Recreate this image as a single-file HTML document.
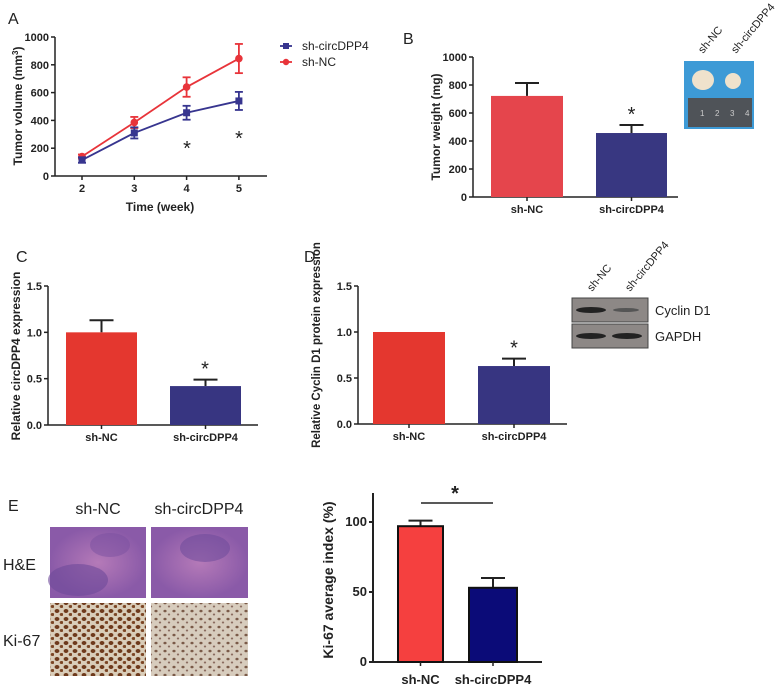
<!DOCTYPE html>
<html><head><meta charset="utf-8"><style>
body{margin:0;background:#fff;}
svg{display:block;font-family:"Liberation Sans",sans-serif;}
.t{font-size:10.5px;font-weight:bold;fill:#222;}
.pl{font-size:16px;fill:#222;}
</style></head><body>
<svg id="fig" width="784" height="686" viewBox="0 0 784 686">
<defs>
<pattern id="ki1" width="9" height="8" patternUnits="userSpaceOnUse"><rect width="9" height="8" fill="#d9cdb9"/><ellipse cx="3" cy="3" rx="2.4" ry="2" fill="#6e3a1c"/><ellipse cx="7.5" cy="6.5" rx="1.8" ry="1.5" fill="#7b4524"/></pattern>
<pattern id="ki2" width="9" height="8" patternUnits="userSpaceOnUse"><rect width="9" height="8" fill="#d7ccbd"/><ellipse cx="3" cy="3" rx="1.6" ry="1.3" fill="#7a5a48"/><ellipse cx="7" cy="6.5" rx="1.2" ry="1" fill="#8a6c60"/></pattern>
<radialGradient id="he1"><stop offset="0" stop-color="#b57ab8"/><stop offset="1" stop-color="#8a5aa8"/></radialGradient>
</defs>
<g id="root"></g>
</svg>
<script>
// Panel A data
const weeks=[2,3,4,5];
const circVol=[115,310,455,540];
const circErr=[20,40,50,65];
const ncVol=[140,385,640,845];
const ncErr=[15,40,70,105];
const aTicks=[0,200,400,600,800,1000];
// Panel B
const bCats=['sh-NC','sh-circDPP4'];
const bVals=[722,457];
const bErr=[92,57];
const bTicks=[0,200,400,600,800,1000];
// Panel C
const cVals=[1.0,0.42];
const cErr=[0.13,0.07];
const cTicks=['0.0','0.5','1.0','1.5'];
// Panel D
const dVals=[1.0,0.63];
const dErr=[0,0.08];
const dTicks=['0.0','0.5','1.0','1.5'];
// Panel E
const eVals=[97,53];
const eErr=[4,7];
const eTicks=[0,50,100];

const NS='http://www.w3.org/2000/svg';
const root=document.getElementById('root');
function el(tag,attrs,parent,text){const e=document.createElementNS(NS,tag);for(const k in attrs)e.setAttribute(k,attrs[k]);if(text!==undefined)e.textContent=text;(parent||root).appendChild(e);return e;}
function grp(name){const g=el('g',{});


return g;}

function lbl(g,x,y,s,name,cls,extra){
 const a={x:x,y:y,class:cls||'t'};let st='';
 for(const k in (extra||{})){if(k==='font-size')st+='font-size:'+extra[k]+'px;';else if(k==='font-weight'||k==='fill')st+=k+':'+extra[k]+';';else a[k]=extra[k];}
 if(st)a.style=st;
 const t=el('text',a,g,s);
 
 
 return t;}

function yAxis(g,x,y0,y1,vmax,ticks,minor,sw,fs){
 const sc=v=>y0-(v/vmax)*(y0-y1);
 el('line',{x1:x,y1:y0,x2:x,y2:y1-(minor||0),stroke:'#222','stroke-width':sw||1.5},g);
 ticks.forEach(tv=>{const v=+tv;const y=sc(v);el('line',{x1:x-4,y1:y,x2:x,y2:y,stroke:'#222','stroke-width':sw||1.5},g);
  lbl(g,x-6,y+4,String(tv),'y-tick-label','t',{'text-anchor':'end','font-size':fs||11});});
 return sc;
}

[['A',8,24],['B',403,44],['C',16,262],['D',304,262],['E',8,511]].forEach(p=>{lbl(root,p[1],p[2],p[0],'panel-label-'+p[0].toLowerCase(),'pl');});

// ---------- Panel A ----------
(function(){
 const g=grp('tumor-volume-chart');
 const x0=55,xe=267,y0=176,y1=37;
 const xs=w=>82+(w-2)*52.3;
 const ys=yAxis(g,x0,y0,y1,1000,aTicks);
 el('line',{x1:x0,y1:y0,x2:xe,y2:y0,stroke:'#222','stroke-width':1.5},g);
 weeks.forEach(w=>{el('line',{x1:xs(w),y1:y0,x2:xs(w),y2:y0+4,stroke:'#222','stroke-width':1.5},g);lbl(g,xs(w),y0+16,String(w),'x-tick-label','t',{'text-anchor':'middle','font-size':11});});
 lbl(g,160,211,'Time (week)','x-axis-title','t',{'text-anchor':'middle','font-size':12});
 const yt=lbl(g,0,0,'','y-axis-title','t',{'text-anchor':'middle','transform':'translate(22,106) rotate(-90)','font-size':12});
 yt.innerHTML='Tumor volume (mm<tspan dy="-4" style="font-size:8px">3</tspan><tspan dy="4">)</tspan>';
 function series(vals,err,col,name,sq){
  const s=grp(name);g.appendChild(s);
  el('polyline',{points:weeks.map((w,i)=>xs(w)+','+ys(vals[i])).join(' '),fill:'none',stroke:col,'stroke-width':1.8},s);
  weeks.forEach((w,i)=>{const x=xs(w);
   el('line',{x1:x,y1:ys(vals[i]-err[i]),x2:x,y2:ys(vals[i]+err[i]),stroke:col,'stroke-width':1.8},s);
   [vals[i]-err[i],vals[i]+err[i]].forEach(v=>el('line',{x1:x-4,y1:ys(v),x2:x+4,y2:ys(v),stroke:col,'stroke-width':1.8},s));
   const m=sq?el('rect',{x:x-3.5,y:ys(vals[i])-3.5,width:7,height:7,fill:col},s):el('circle',{cx:x,cy:ys(vals[i]),r:3.8,fill:col},s);
   
   
  });
 }
 series(ncVol,ncErr,'#e8343a','series-sh-nc',false);
 series(circVol,circErr,'#37358f','series-sh-circdpp4',true);
 lbl(g,187,155,'*','significance-star','t',{'text-anchor':'middle','font-size':20,'font-weight':'normal'});
 lbl(g,239,145,'*','significance-star','t',{'text-anchor':'middle','font-size':20,'font-weight':'normal'});
 const lg=grp('legend');g.appendChild(lg);
 el('line',{x1:280,y1:46,x2:292,y2:46,stroke:'#37358f','stroke-width':1.8},lg);el('rect',{x:283,y:43,width:6,height:6,fill:'#37358f'},lg);
 lbl(lg,302,50,'sh-circDPP4','legend-entry','t',{'font-weight':'normal','font-size':12});
 el('line',{x1:280,y1:62,x2:292,y2:62,stroke:'#e8343a','stroke-width':1.8},lg);el('circle',{cx:286,cy:62,r:3.2,fill:'#e8343a'},lg);
 lbl(lg,302,66,'sh-NC','legend-entry','t',{'font-weight':'normal','font-size':12});
})();

function barChart(name,o){
 const g=grp(name);
 const ys=yAxis(g,o.x0,o.y0,o.y1,o.vmax,o.ticks,o.extra||0,o.sw,o.fs);
 el('line',{x1:o.x0,y1:o.y0,x2:o.xe,y2:o.y0,stroke:'#222','stroke-width':o.sw||1.5},g);
 o.vals.forEach((v,i)=>{const b=o.bars[i];const cx=(b[0]+b[1])/2;
  if(o.err[i]>0){el('line',{x1:cx,y1:ys(v),x2:cx,y2:ys(v+o.err[i]),stroke:'#222','stroke-width':2},g);
   el('line',{x1:cx-12,y1:ys(v+o.err[i]),x2:cx+12,y2:ys(v+o.err[i]),stroke:'#222','stroke-width':2},g);}
  const r=el('rect',{x:b[0],y:ys(v),width:b[1]-b[0],height:o.y0-ys(v),fill:o.cols[i],stroke:o.stroke||'none','stroke-width':o.stroke?2:0},g);
  
  
  el('line',{x1:cx,y1:o.y0,x2:cx,y2:o.y0+4,stroke:'#222','stroke-width':1.5},g);
  lbl(g,cx,o.y0+(o.ly||16),bCats[i],'x-tick-label','t',{'text-anchor':'middle','font-size':o.fs||11});
 });
 lbl(g,0,0,o.title,'y-axis-title','t',{'text-anchor':'middle','transform':'translate('+o.tx+','+o.ty+') rotate(-90)','font-size':o.tfs||12});
 return {g,ys};
}

// Panel B
(function(){const r=barChart('tumor-weight-chart',{x0:473,xe:678,y0:197,y1:57,vmax:1000,ticks:bTicks,vals:bVals,err:bErr,bars:[[491,563],[596,667]],cols:['#e5454c','#383781'],title:'Tumor weight (mg)',tx:440,ty:127});
 const c=(596+667)/2;lbl(r.g,c,r.ys(bVals[1]+bErr[1])-4,'*','significance-star','t',{'text-anchor':'middle','font-size':20,'font-weight':'normal'});
 const p=grp('tumor-photo');
 el('rect',{x:684,y:61,width:70,height:68,fill:'#3d9ad6'},p);
 el('ellipse',{cx:703,cy:80,rx:11,ry:10,fill:'#efe2cc'},p);
 el('ellipse',{cx:733,cy:81,rx:8,ry:8,fill:'#efe2cc'},p);
 el('rect',{x:688,y:98,width:64,height:29,fill:'#4f5358'},p);
 ['1','2','3','4'].forEach((s,i)=>lbl(p,700+i*15,116,s,'ruler-number','t',{'font-size':8,'fill':'#ccc','font-weight':'normal'}));
 lbl(p,0,0,'sh-NC','photo-label','t',{'font-weight':'normal','font-size':11,'transform':'translate(703,54) rotate(-50)'});
 lbl(p,0,0,'sh-circDPP4','photo-label','t',{'font-weight':'normal','font-size':11,'transform':'translate(736,54) rotate(-50)'});
})();

// Panel C
(function(){const r=barChart('circdpp4-expression-chart',{x0:48,xe:258,y0:425,y1:286,vmax:1.5,ticks:cTicks,vals:cVals,err:cErr,bars:[[66,137],[170,241]],cols:['#e4372f','#373581'],title:'Relative circDPP4 expression',tx:20,ty:356});
 lbl(r.g,205,r.ys(cVals[1]+cErr[1])-4,'*','significance-star','t',{'text-anchor':'middle','font-size':20,'font-weight':'normal'});})();

// Panel D
(function(){const r=barChart('cyclin-d1-chart',{x0:358,xe:567,y0:424,y1:286,vmax:1.5,ticks:dTicks,vals:dVals,err:dErr,bars:[[373,445],[478,550]],cols:['#e4372f','#373581'],title:'Relative Cyclin D1 protein expression',tx:320,ty:345,tfs:11.5});
 lbl(r.g,514,r.ys(dVals[1]+dErr[1])-4,'*','significance-star','t',{'text-anchor':'middle','font-size':20,'font-weight':'normal'});
 const w=grp('western-blot');
 el('rect',{x:572,y:298,width:76,height:24,fill:'#8d8886',stroke:'#444'},w);
 el('rect',{x:572,y:324,width:76,height:24,fill:'#8d8886',stroke:'#444'},w);
 el('ellipse',{cx:591,cy:310,rx:15,ry:3,fill:'#222'},w);
 el('ellipse',{cx:626,cy:310,rx:13,ry:2,fill:'#555'},w);
 el('ellipse',{cx:591,cy:336,rx:15,ry:3,fill:'#222'},w);
 el('ellipse',{cx:627,cy:336,rx:15,ry:3,fill:'#222'},w);
 lbl(w,655,315,'Cyclin D1','blot-label','t',{'font-weight':'normal','font-size':13});
 lbl(w,655,341,'GAPDH','blot-label','t',{'font-weight':'normal','font-size':13});
 lbl(w,0,0,'sh-NC','blot-lane-label','t',{'font-weight':'normal','font-size':11,'transform':'translate(592,292) rotate(-50)'});
 lbl(w,0,0,'sh-circDPP4','blot-lane-label','t',{'font-weight':'normal','font-size':11,'transform':'translate(630,292) rotate(-50)'});
})();

// Panel E images
(function(){const g=grp('histology-images');
 el('rect',{x:50,y:527,width:96,height:71,fill:'url(#he1)'},g);
 el('ellipse',{cx:78,cy:580,rx:30,ry:16,fill:'#6e4a9a',opacity:0.6},g);
 el('ellipse',{cx:110,cy:545,rx:20,ry:12,fill:'#7a50a0',opacity:0.5},g);
 el('rect',{x:151,y:527,width:97,height:71,fill:'url(#he1)'},g);
 el('ellipse',{cx:205,cy:548,rx:25,ry:14,fill:'#6e4a9a',opacity:0.55},g);
 el('rect',{x:50,y:603,width:96,height:73,fill:'url(#ki1)'},g);
 el('rect',{x:151,y:603,width:97,height:73,fill:'url(#ki2)'},g);
 lbl(g,98,514,'sh-NC','column-label','t',{'text-anchor':'middle','font-weight':'normal','font-size':16});
 lbl(g,199,514,'sh-circDPP4','column-label','t',{'text-anchor':'middle','font-weight':'normal','font-size':16});
 lbl(g,3,570,'H&E','row-label','t',{'font-weight':'normal','font-size':16});
 lbl(g,3,646,'Ki-67','row-label','t',{'font-weight':'normal','font-size':16});
})();

// Panel E chart
(function(){const r=barChart('ki67-chart',{x0:373,xe:542,y0:662,y1:522,vmax:100,ticks:eTicks,extra:29,vals:eVals,err:eErr,bars:[[398,443],[469,517]],cols:['#f5403f','#0b0b78'],stroke:'#111',title:'Ki-67 average index (%)',tx:333,ty:580,tfs:14,sw:2,fs:13,ly:22});
 el('line',{x1:373,y1:592,x2:369,y2:592,stroke:'#222','stroke-width':2},r.g);
 el('line',{x1:421,y1:503,x2:493,y2:503,stroke:'#222','stroke-width':1.5},r.g);
 lbl(r.g,455,500,'*','significance-star','t',{'text-anchor':'middle','font-size':20});
})();
</script>
</body></html>
